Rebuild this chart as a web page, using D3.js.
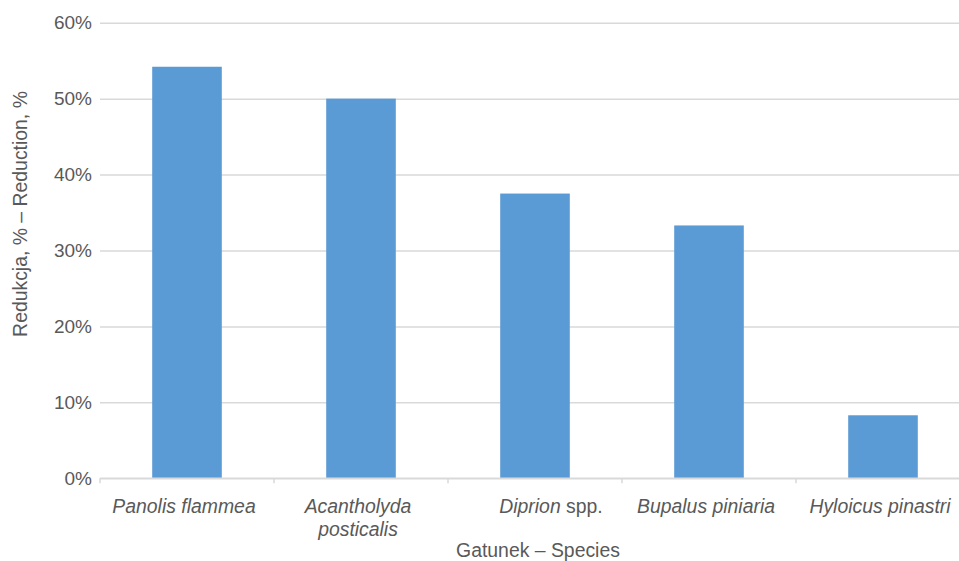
<!DOCTYPE html>
<html>
<head>
<meta charset="utf-8">
<script src="https://cdn.jsdelivr.net/npm/d3@7"></script>
<style>
  html, body { margin: 0; padding: 0; background: #fff; }
  svg { display: block; font-family: "Liberation Sans", Arial, sans-serif; }
</style>
</head>
<body>
<svg id="chart" width="959" height="561"></svg>
<script>
// Species (genus in italics, suffix upright), one label line per entry
const species = ["Panolis flammea", "Acantholyda posticalis", "Diprion spp.", "Bupalus piniaria", "Hyloicus pinastri"];
const speciesLines = [
  [[{ t: "Panolis flammea", i: true }]],
  [[{ t: "Acantholyda", i: true }], [{ t: "posticalis", i: true }]],
  [[{ t: "Diprion", i: true }, { t: " spp.", i: false }]],
  [[{ t: "Bupalus piniaria", i: true }]],
  [[{ t: "Hyloicus pinastri", i: true }]]
];
// Reduction share (fraction)
const reduction = [0.542, 0.500, 0.375, 0.333, 0.083];
const yTicks = [0, 0.1, 0.2, 0.3, 0.4, 0.5, 0.6];

const svg = d3.select("#chart");
const mLeft = 100, mRight = 970, mTop = 22.7, mBottom = 478.3;
const textColor = "#595959";
const gridColor = "#d9d9d9";
const labelSize = 19.4;

const x = d3.scaleBand().domain(species).range([mLeft, mRight]).paddingInner(0.6).paddingOuter(0.3);
const y = d3.scaleLinear().domain([0, 0.6]).range([mBottom, mTop]);

// Horizontal gridlines and y tick labels
const yAxis = d3.axisLeft(y).tickValues(yTicks).tickFormat(d3.format(".0%"))
  .tickSize(-(mRight - mLeft)).tickPadding(8);
const gy = svg.append("g").attr("transform", `translate(${mLeft},0)`).call(yAxis);
gy.select(".domain").remove();
gy.selectAll(".tick line").attr("stroke", gridColor).attr("stroke-width", 1.5);
gy.selectAll(".tick text").attr("fill", textColor).attr("font-size", 19)
  .attr("font-family", "Liberation Sans, Arial, sans-serif");

// Bars
svg.append("g").selectAll("rect").data(species).join("rect")
  .attr("x", d => x(d))
  .attr("width", x.bandwidth())
  .attr("y", (d, i) => y(reduction[i]))
  .attr("height", (d, i) => y(0) - y(reduction[i]))
  .attr("fill", "#5b9bd5");

// Category axis line with boundary ticks
svg.append("line").attr("x1", mLeft).attr("x2", mRight).attr("y1", mBottom).attr("y2", mBottom)
  .attr("stroke", gridColor).attr("stroke-width", 1.5);
const step = x.step();
const bounds = d3.range(species.length + 1).map(i => mLeft + i * step);
svg.append("g").selectAll("line").data(bounds).join("line")
  .attr("x1", d => d).attr("x2", d => d)
  .attr("y1", mBottom).attr("y2", mBottom + 5)
  .attr("stroke", gridColor).attr("stroke-width", 1.5);

// Category labels (the Diprion label sits a little right of its bar)
const labelNudge = { "Diprion spp.": 19 };
const labels = svg.append("g").attr("fill", textColor).attr("font-size", labelSize).attr("text-anchor", "middle");
species.forEach((s, i) => {
  const cx = x(s) + x.bandwidth() / 2 - 3 + (labelNudge[s] || 0);
  speciesLines[i].forEach((line, li) => {
    const t = labels.append("text").attr("x", cx).attr("y", 513 + li * 23);
    line.forEach(part => {
      t.append("tspan").attr("font-style", part.i ? "italic" : "normal").text(part.t);
    });
  });
});

// Axis titles
svg.append("text").attr("x", 538).attr("y", 557).attr("text-anchor", "middle")
  .attr("fill", textColor).attr("font-size", labelSize).text("Gatunek – Species");
svg.append("text").attr("transform", "translate(27,214) rotate(-90)").attr("text-anchor", "middle")
  .attr("fill", textColor).attr("font-size", labelSize).text("Redukcja, % – Reduction, %");
</script>
</body>
</html>
